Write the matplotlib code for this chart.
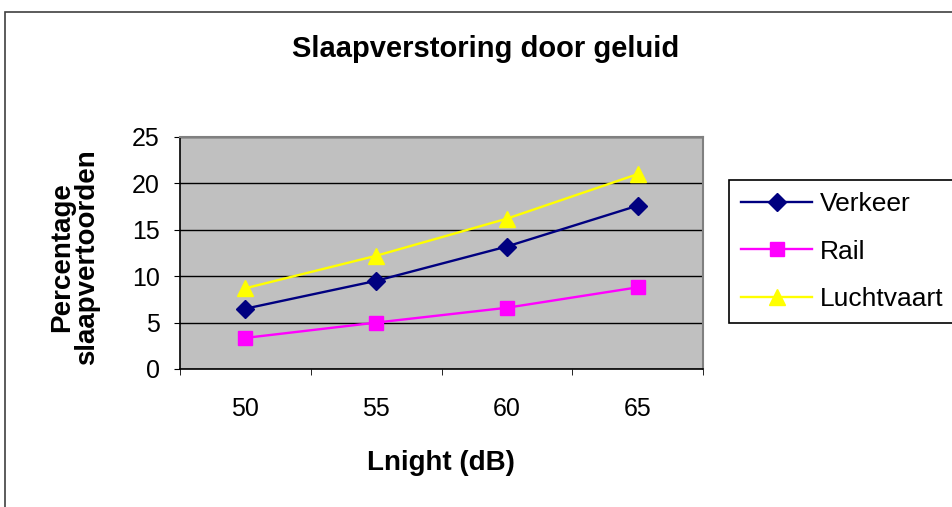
import matplotlib.pyplot as plt
from matplotlib.patches import Rectangle

# Data
categories = ['50', '55', '60', '65']
verkeer = [6.5, 9.5, 13.2, 17.6]
rail = [3.35, 5.0, 6.6, 8.8]
luchtvaart = [8.7, 12.2, 16.2, 21.0]

plt.rcParams['font.family'] = ['Liberation Sans', 'DejaVu Sans']

fig = plt.figure(figsize=(9.52, 5.07), dpi=100)
ax = fig.add_axes([180 / 952, 1 - 369 / 507, (703 - 180) / 952, (369 - 137) / 507])

# chart border
fig.add_artist(Rectangle((5 / 952, -0.1), 1.2, 1 - 12 / 507 + 0.1, transform=fig.transFigure,
                         fill=False, edgecolor='#404040', linewidth=1.2))

x = [i + 0.5 for i in range(len(categories))]
ax.set_facecolor('#C0C0C0')
ax.plot(x, verkeer, color='#000080', marker='D', markersize=9, linewidth=1.7, label='Verkeer')
ax.plot(x, rail, color='#FF00FF', marker='s', markersize=10, linewidth=1.7, label='Rail')
ax.plot(x, luchtvaart, color='#FFFF00', marker='^', markersize=11, linewidth=1.7, label='Luchtvaart')

ax.set_xlim(0, 4)
ax.set_ylim(0, 25)
ax.set_yticks([0, 5, 10, 15, 20, 25])
ax.yaxis.grid(True, color='black', linewidth=1)
ax.set_axisbelow(True)
ax.set_xticks(x)
ax.set_xticklabels(categories)
ax.set_xticks(range(5), minor=True)
ax.tick_params(axis='x', which='major', length=0, pad=20, labelsize=18)
ax.tick_params(axis='x', which='minor', length=4.5, direction='out', color='black')
ax.tick_params(axis='y', length=4.5, direction='out', labelsize=18, pad=10)

for s in ['top', 'right']:
    ax.spines[s].set_color('#808080')
    ax.spines[s].set_linewidth(1.5)
for s in ['left', 'bottom']:
    ax.spines[s].set_color('black')
    ax.spines[s].set_linewidth(1.2)

fig.text(441 / 952, 1 - 463 / 507, 'Lnight (dB)', fontsize=20, fontweight='bold',
         ha='center', va='center')
fig.text(75 / 952, 1 - 257 / 507, 'Percentage\nslaapvertoorden', fontsize=20, fontweight='bold',
         ha='center', va='center', rotation=90, linespacing=0.95, multialignment='center')
fig.text(486 / 952, 1 - 49 / 507, 'Slaapverstoring door geluid', fontsize=21, fontweight='bold',
         ha='center', va='center')

leg = ax.legend(loc='upper left', bbox_to_anchor=(729 / 952, 1 - 180 / 507),
                bbox_transform=fig.transFigure, fontsize=19, frameon=True, fancybox=False,
                edgecolor='black', handlelength=2.7, handletextpad=0.31, labelspacing=0.9,
                borderpad=0.45, borderaxespad=0)
leg.get_frame().set_linewidth(1.2)
leg.get_frame().set_facecolor('white')
leg.get_frame().set_alpha(1)

plt.savefig('out.png', dpi=100)
